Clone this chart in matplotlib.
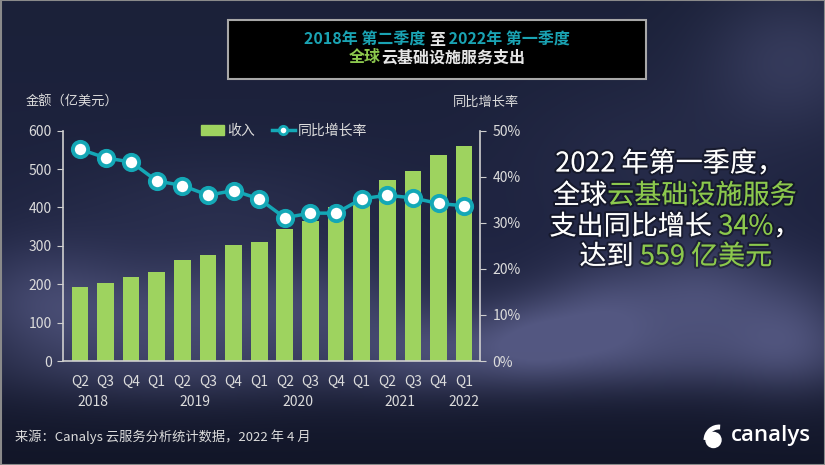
import numpy as np
import matplotlib
matplotlib.use("Agg")
import matplotlib.pyplot as plt
from matplotlib.patches import Rectangle, Circle, Arc
from matplotlib.lines import Line2D
from matplotlib.patches import Patch
import matplotlib.patheffects as pe

plt.rcParams['font.family'] = ['Noto Sans CJK SC', 'DejaVu Sans']

# ---------------- data ----------------
quarters = ["Q2", "Q3", "Q4", "Q1", "Q2", "Q3", "Q4", "Q1",
            "Q2", "Q3", "Q4", "Q1", "Q2", "Q3", "Q4", "Q1"]
years = ["2018", "2019", "2020", "2021", "2022"]
year_pos = [0.5, 4.5, 8.5, 12.5, 15]
revenue = [192, 202, 220, 231, 263, 275, 303, 311,
           345, 365, 400, 420, 471, 494, 536, 559]
growth = [46.0, 44.1, 43.2, 39.1, 38.1, 36.0, 37.0, 35.2,
          31.1, 32.1, 32.1, 35.2, 36.0, 35.4, 34.2, 33.7]
left_ticks = [0, 100, 200, 300, 400, 500, 600]
right_ticks = [0, 10, 20, 30, 40, 50]

W, H = 825, 465
BAR = '#9ed35f'
TEAL = '#14a8b6'
TITLE_TEAL = '#1aa3b3'
GREEN_TXT = '#8cc84e'
TXT = '#dcdcdc'

fig = plt.figure(figsize=(W / 100, H / 100), dpi=100)

# ---------------- background ----------------
bg = fig.add_axes([0, 0, 1, 1], zorder=-10)
yy, xx = np.mgrid[0:H, 0:W].astype(float)
t = yy / H
top = np.array([27, 33, 57]) / 255
mid = np.array([30, 35, 64]) / 255
bot = np.array([18, 22, 40]) / 255
w1 = np.clip(t / 0.55, 0, 1)[..., None]
w2 = np.clip((t - 0.55) / 0.45, 0, 1)[..., None]
base = top * (1 - w1) + mid * w1
base = base * (1 - w2) + bot * w2

blobs = [  # cx, cy, sx, sy, amp
    (600, 315, 45, 35, 0.55), (700, 300, 55, 40, 0.6), (795, 330, 45, 40, 0.5),
    (530, 335, 40, 30, 0.45), (430, 345, 60, 30, 0.4), (300, 305, 90, 35, 0.45),
    (150, 320, 90, 40, 0.4), (40, 300, 60, 40, 0.4), (220, 210, 120, 40, 0.15),
    (790, 60, 60, 50, 0.35), (650, 160, 90, 60, 0.12), (640, 360, 160, 25, 0.35),
    (200, 370, 160, 25, 0.25),
]
c = np.zeros((H, W))
for cx, cy, sx, sy, a in blobs:
    c += a * np.exp(-(((xx - cx) / sx) ** 2 + ((yy - cy) / sy) ** 2) / 2)
c = np.clip(c, 0, 0.8)[..., None]
cloud = np.array([98, 102, 148]) / 255
img = base * (1 - c) + cloud * c
bg.imshow(img, extent=[0, W, H, 0], aspect='auto')
bg.set_xlim(0, W)
bg.set_ylim(H, 0)
bg.axis('off')
bg.add_patch(Rectangle((0.5, 0.5), W - 1, H - 1, fill=False, ec='#8a8a8a', lw=1.5))

# ---------------- main chart ----------------
x = np.arange(len(quarters))
ax = fig.add_axes([63 / W, 1 - 361 / H, 417 / W, 230.3 / H])
ax.set_facecolor('none')
ax.bar(x, revenue, width=0.65, color=BAR, zorder=2)
ax.set_xlim(-0.66, len(quarters) - 1 + 0.62)
ax.set_ylim(0, 600)
ax.set_yticks(left_ticks)
ax.set_xticks(x)
ax.set_xticklabels(quarters)
for s in ['top', 'right']:
    ax.spines[s].set_visible(False)
for s in ['left', 'bottom']:
    ax.spines[s].set_color('#cfcfcf')
    ax.spines[s].set_linewidth(1.2)
ax.tick_params(axis='y', colors='#cfcfcf', labelcolor=TXT, labelsize=10, length=4, pad=4)
ax.tick_params(axis='x', length=0, labelcolor=TXT, labelsize=10, pad=10)

for yr, p in zip(years, year_pos):
    ax.text(p, -0.178, yr, transform=ax.get_xaxis_transform(), ha='center',
            va='center', color=TXT, fontsize=10)

ax2 = ax.twinx()
ax2.set_ylim(0, 50)
ax2.set_yticks(right_ticks)
ax2.set_yticklabels([f"{v}%" for v in right_ticks])
ax2.plot(x, growth, color=TEAL, lw=2.5, marker='o', ms=11, mfc='white',
         mec=TEAL, mew=2.8, zorder=3)
for s in ['top', 'left', 'bottom']:
    ax2.spines[s].set_visible(False)
ax2.spines['right'].set_color('#cfcfcf')
ax2.spines['right'].set_linewidth(1.2)
ax2.tick_params(axis='y', colors='#cfcfcf', labelcolor=TXT, labelsize=10, length=4, pad=5)

handles = [Patch(color=BAR, label='收入'),
           Line2D([0], [0], color=TEAL, lw=2.5, marker='o', ms=6, mfc='white',
                  mec=TEAL, mew=2, label='同比增长率')]
leg = fig.legend(handles=handles, loc='center', bbox_to_anchor=(284 / W, 1 - 131 / H),
                 ncol=2, frameon=False, fontsize=10, handlelength=1.7, handleheight=0.7,
                 handletextpad=0.2, columnspacing=1.2)
for tx in leg.get_texts():
    tx.set_color(TXT)

fig.text(26 / W, 1 - 102 / H, '金额（亿美元）', color=TXT, fontsize=9.5, ha='left', va='center')
fig.text(453 / W, 1 - 102 / H, '同比增长率', color=TXT, fontsize=9.5, ha='left', va='center')

# ---------------- rich text helper ----------------
renderer = fig.canvas.get_renderer()


def measure(s, **kw):
    a = fig.text(0, 0, '|' + s + '|', **kw)
    b = fig.text(0, 0, '||', **kw)
    w = a.get_window_extent(renderer).width - b.get_window_extent(renderer).width
    a.remove()
    b.remove()
    return w


def rich(xc, yc, pieces, size, weight='normal', effects=None):
    kw = dict(fontsize=size, fontweight=weight)
    widths = [measure(s, **kw) for s, _ in pieces]
    cur = xc - sum(widths) / 2
    for (s, col), w in zip(pieces, widths):
        tt = fig.text(cur / W, 1 - yc / H, s, color=col, ha='left', va='center', **kw)
        if effects:
            tt.set_path_effects(effects)
        cur += w


# title box
bg.add_patch(Rectangle((228, 20), 418, 59, fc='black', ec='#a8a8a8', lw=1.5, zorder=5))
rich(437, 40, [("2018年 第二季度 ", TITLE_TEAL), ("至", '#e6e6e6'),
               (" 2022年 第一季度", TITLE_TEAL)], 11.5, weight='bold')
rich(437, 57, [("全球", GREEN_TXT), ("云基础设施服务支出", '#e6e6e6')], 11.5, weight='bold')

# right statement
shadow = [pe.withStroke(linewidth=3, foreground=(0, 0, 0, 0.35))]
rich(670, 164, [("2022 年第一季度，", 'white')], 19.5, effects=shadow)
rich(675, 196, [("全球", 'white'), ("云基础设施服务", GREEN_TXT)], 19.5, effects=shadow)
rich(675, 227, [("支出同比增长 ", 'white'), ("34%", GREEN_TXT), ("，", 'white')], 19.5, effects=shadow)
rich(676, 257, [("达到 ", 'white'), ("559 亿美元", GREEN_TXT)], 19.5, effects=shadow)

# footer
fig.text(15 / W, 1 - 437 / H, '来源：Canalys 云服务分析统计数据，2022 年 4 月',
         color=TXT, fontsize=9.5, ha='left', va='center')

# logo
bg.add_patch(Circle((713.5, 440), 7.5, color='white', zorder=6))
bg.add_patch(Arc((719, 440), 26, 26, theta1=180, theta2=275, color='white', lw=3.5, zorder=6))
fig.text(731 / W, 1 - 435 / H, 'canalys', color='white', fontsize=16,
         family=['Open Sans', 'DejaVu Sans'], fontweight='semibold', ha='left', va='center')

fig.savefig('out.png', dpi=100)
